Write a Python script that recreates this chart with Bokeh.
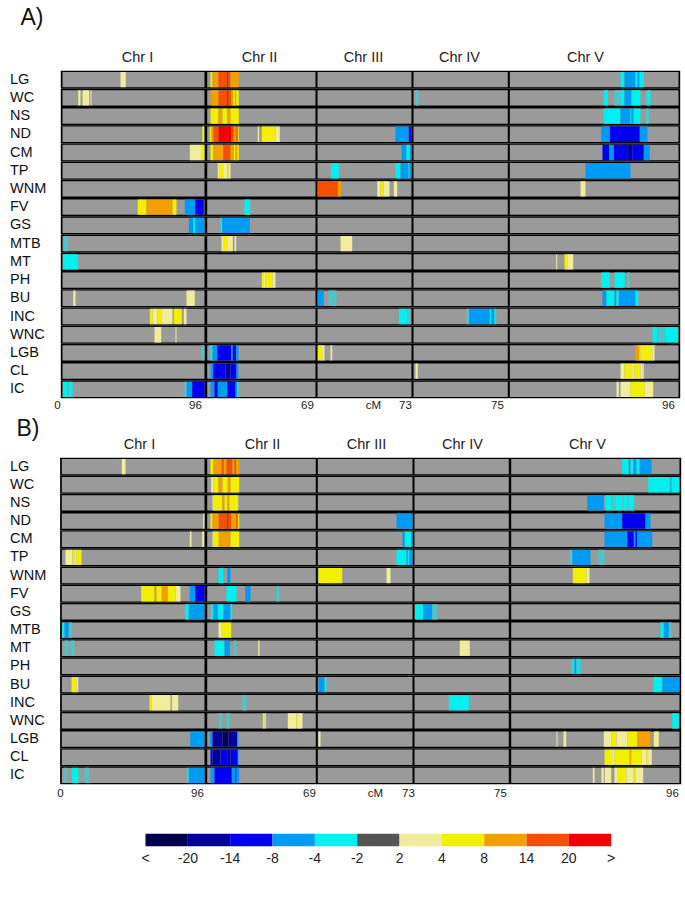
from bokeh.plotting import figure
from bokeh.layouts import column
from bokeh.models import FactorRange, Range1d, LinearAxis, FixedTicker, Label
from bokeh.core.properties import value
from bokeh.embed import file_html
from bokeh.resources import INLINE

FONT = "Liberation Sans"

# colour classes of the scale, lowest to highest; FC is a washed-out cyan seen in narrow loci
NV, DB, BL, SK, CY, DG, PA, YE, OR, RO, RE, FC = range(12)
LEVEL_COLORS = ["#00004f", "#00009a", "#0000f0", "#009bf2", "#00f0f0", "#555555",
                "#f0ec9c", "#f2f000", "#f2a000", "#f55000", "#f50000", "#4fc4c9"]
SCALE_LABELS = ["<", "-20", "-14", "-8", "-4", "-2", "2", "4", "8", "14", "20", ">"]

ROWS = ["LG", "WC", "NS", "ND", "CM", "TP", "WNM", "FV", "GS", "MTB", "MT", "PH", "BU",
        "INC", "WNC", "LGB", "CL", "IC"]
CHR_NAMES = ["Chr I", "Chr II", "Chr III", "Chr IV", "Chr V"]
TICK_LABELS = ["0", "96", "69", "cM", "73", "75", "96"]

# map position along the panel: (start, end, colour class)
A_CHR_SPANS = [(62, 204), (206.7, 315), (317, 411), (413, 507.3), (509.3, 678)]
A_CHR_CENTERS = [137, 259, 363, 459, 585]
A_TICKS = [57, 195, 307, 373, 405, 497, 668]

A_LG = [(120, 125.3, PA), (210, 212, YE), (212, 218, OR), (218, 226.7, RO), (226.7, 228, RE), (228, 230, RO), (230, 238.3, OR),
        (620, 624, CY), (624, 635, SK), (635, 637, CY), (637, 639, SK), (639, 643.3, CY)]
A_WC = [(77.7, 80, PA), (82, 88.7, PA), (90, 91, PA), (210, 218, OR), (218, 226.7, RO), (226.7, 228, RE), (228, 230.7, RO),
        (230.7, 232.5, OR), (232.5, 234.5, YE), (234.5, 235.7, OR), (235.7, 238.3, YE), (415, 418, FC),
        (603.3, 607.3, CY), (614, 620, FC), (620, 624, CY), (624, 631, SK), (631, 640, CY), (646, 650, CY)]
A_NS = [(210, 218, YE), (218, 222, OR), (222, 226.7, YE), (226.7, 230, OR), (230, 238.3, YE),
        (603, 620, CY), (620, 630, SK), (630, 631, CY), (631, 633, SK), (633, 640, CY), (646, 648, CY)]
A_ND = [(201.7, 203.7, YE), (209.3, 211, YE), (211, 213, OR), (213, 218, RO), (218, 230.7, RE), (230.7, 233.3, RO),
        (233.3, 235.7, OR), (235.7, 237.3, RO), (237.3, 238.3, YE), (257.3, 258.7, PA), (261.3, 275.3, YE), (275.3, 279.3, PA),
        (395, 408.3, SK), (408.3, 411, BL), (600.7, 609.3, SK), (609.3, 639.3, BL), (639.3, 647, SK)]
A_CM = [(189.3, 201.3, PA), (201.3, 204, YE), (210, 212.7, YE), (212.7, 222.7, OR), (222.7, 230, RO), (230, 233.3, OR),
        (233.3, 235, YE), (235, 236.7, OR), (236.7, 238.3, YE), (401, 406, SK), (406, 409.3, CY), (409.3, 411, SK),
        (602, 608.7, BL), (608.7, 613.3, SK), (613.3, 626.7, BL), (626.7, 631.7, DB), (631.7, 643.3, BL), (643.3, 649.3, SK)]
A_TP = [(217.3, 219.3, PA), (219.3, 222.7, YE), (222.7, 226.7, PA), (226.7, 228, YE), (228, 230, PA),
        (330.3, 338.3, CY), (395, 400, CY), (400, 408, SK), (408, 409, CY), (409, 411, SK), (585, 630, SK)]
A_WNM = [(317.3, 337.3, RO), (337.3, 340.7, OR), (376.7, 380, PA), (380, 383.3, YE), (383.3, 389, PA), (393.3, 396.7, PA),
         (580, 585, PA)]
A_FV = [(137.3, 146, YE), (146, 172, OR), (172, 176, YE), (184.3, 194.7, SK), (194.7, 203.3, BL), (244, 249.7, CY)]
A_GS = [(188.3, 192.7, SK), (192.7, 194.7, CY), (194.7, 204, SK), (220, 221.7, CY), (221.7, 249.3, SK)]
A_MTB = [(63.3, 67.7, FC), (221, 223.3, PA), (223.3, 226.7, YE), (226.7, 232.3, PA), (234, 235.7, PA), (340, 351.7, PA)]
A_MT = [(62.3, 77.7, CY), (555.7, 556.7, PA), (564, 566.7, YE), (566.7, 572.7, PA)]
A_PH = [(261.3, 263.5, YE), (263.5, 265, PA), (265, 272, YE), (272, 275, PA), (600.7, 609.3, CY), (614, 624.3, CY), (626.7, 629.3, FC)]
A_BU = [(72.7, 75, PA), (186, 194.3, PA), (317.3, 323.3, SK), (328, 336, FC),
        (602, 606, SK), (606, 614, CY), (614, 616, SK), (616, 618.3, CY), (618.3, 635, SK), (635, 637.7, CY)]
A_INC = [(149.3, 152, YE), (152, 156.7, PA), (156.7, 161.3, YE), (161.3, 172, PA), (173.3, 181.3, YE), (183.3, 186, PA),
         (398.3, 406.7, CY), (406.7, 410, FC), (466, 468.7, FC), (468.7, 489.3, SK), (489.3, 490.7, CY), (490.7, 494, SK), (494, 495.7, CY)]
A_WNC = [(154, 160.7, PA), (175, 176, PA), (652, 656.7, CY), (656.7, 665, FC), (665, 677.7, CY)]
A_LGB = [(201.3, 204, FC), (210, 212, CY), (212, 216.7, SK), (216.7, 230.7, BL), (230.7, 232.3, SK), (232.3, 235.7, BL), (235.7, 238, SK),
         (317.3, 321.7, YE), (321.7, 324, PA), (330, 331.7, PA), (635, 639, OR), (639, 640, PA), (640, 651.7, YE), (651.7, 654, PA)]
A_CL = [(210, 212.7, SK), (212.7, 225, BL), (225, 230, DB), (230, 236, BL), (236, 238, SK), (415, 417.3, PA),
        (620, 624, PA), (624, 631.7, YE), (631.7, 634, PA), (634, 640, YE), (640, 642, PA), (642, 643.3, PA)]
A_IC = [(62.3, 66.7, CY), (66.7, 68.3, FC), (68.3, 72, CY), (184.3, 186, CY), (186, 191.7, SK), (191.7, 204, BL),
        (210, 214, SK), (214, 217.3, BL), (217.3, 226.7, SK), (226.7, 235, BL), (235, 236.7, SK), (236.7, 238, CY),
        (616, 618.3, PA), (620, 630, PA), (630, 644, YE), (644, 652.7, PA)]
A_DATA = [A_LG, A_WC, A_NS, A_ND, A_CM, A_TP, A_WNM, A_FV, A_GS, A_MTB, A_MT, A_PH, A_BU, A_INC, A_WNC, A_LGB, A_CL, A_IC]

B_CHR_SPANS = [(61.3, 204), (206.7, 315.3), (317.3, 412), (414, 508.3), (510.7, 679)]
B_CHR_CENTERS = [139, 262, 366, 462, 587]
B_TICKS = [60, 197, 309, 375, 408, 500, 672]

B_LG = [(121.3, 125, PA), (210, 212.7, YE), (212.7, 221.3, OR), (221.3, 223.3, RO), (223.3, 226, OR), (226, 232, RO),
        (232, 234, OR), (234, 235.5, RO), (235.5, 238.7, OR), (621.7, 628.3, CY), (628.3, 630, SK), (630, 632.7, CY),
        (632.7, 636, SK), (636, 639, CY), (639, 651, SK)]
B_WC = [(210.7, 212.7, PA), (212.7, 218, YE), (218, 222, OR), (222, 227.3, YE), (227.3, 230, OR), (230, 238.7, YE),
        (647.7, 670, CY), (670, 671, SK), (671, 678.7, CY)]
B_NS = [(212, 213.3, PA), (213.3, 221.7, YE), (221.7, 224, OR), (224, 226.7, YE), (226.7, 228.7, OR), (228.7, 237.7, YE),
        (586.7, 603.3, SK), (605, 610.7, CY), (610.7, 615, FC), (615, 621.7, CY), (621.7, 623.3, FC), (623.3, 627.3, CY),
        (627.3, 628.3, FC), (628.3, 633.7, CY)]
B_ND = [(202.7, 204, PA), (210, 212, YE), (212, 218.3, OR), (218.3, 226.7, RO), (226.7, 228, RE), (228, 230.7, RO),
        (230.7, 233.3, OR), (233.3, 235.7, OR), (235.7, 237.3, RO), (237.3, 238.7, YE), (396, 412, SK),
        (604, 621.7, SK), (621.7, 645, BL), (645, 650, SK)]
B_CM = [(189.3, 191, PA), (201.7, 203.7, PA), (212, 213.3, PA), (213.3, 218.3, YE), (218.3, 230, OR), (230, 238.7, YE),
        (402, 404.3, SK), (404.3, 410.7, CY), (410.7, 412, SK), (604, 626.7, SK), (626.7, 633.3, BL), (633.3, 635, SK),
        (635, 636.7, BL), (636.7, 651.7, SK)]
B_TP = [(65, 72, PA), (72, 74, YE), (74, 76, PA), (76, 81, YE), (396, 406, CY), (406, 407.3, SK), (407.3, 408.7, CY), (408.7, 412, SK),
        (570, 571.7, CY), (571.7, 590, SK), (597.7, 604, FC)]
B_WNM = [(218, 222.7, CY), (226.7, 230, SK), (318, 341.7, YE), (386, 390, PA), (572.3, 586, YE), (586, 589, PA)]
B_FV = [(140.7, 154, YE), (154, 156, OR), (156, 161.3, YE), (161.3, 167.3, OR), (167.3, 175, YE), (175, 180, PA),
        (189.3, 194.7, SK), (194.7, 204, BL), (226, 236, CY), (244.7, 250, SK), (275.7, 279, FC)]
B_GS = [(184.7, 188.3, CY), (188.3, 204, SK), (210.7, 212.7, CY), (212.7, 217.3, SK), (217.3, 222.7, CY), (222.7, 230, SK),
        (230, 231.7, CY), (414.7, 422.7, CY), (422.7, 431.7, SK), (431.7, 436.7, FC)]
B_MTB = [(61.7, 64, CY), (64, 68.3, SK), (68.3, 71.7, FC), (218, 221.3, PA), (221.3, 230.7, YE),
         (660, 663.3, CY), (663.3, 668.3, SK), (668.3, 671, FC)]
B_MT = [(64, 68, FC), (70, 74, FC), (214, 224, CY), (224, 229.3, SK), (233.3, 236, FC), (257.7, 259, PA), (459.3, 469.3, PA)]
B_PH = [(571.7, 574, CY), (574, 576, SK), (576, 578.3, CY), (578.3, 580.7, FC)]
B_BU = [(71, 76, YE), (76, 77.7, PA), (318, 324, SK), (324, 326, CY), (653.3, 661.7, CY), (661.7, 679, SK)]
B_INC = [(149, 151, YE), (151, 170, PA), (171.3, 177.7, PA), (242, 246, FC), (448.3, 468.3, CY)]
B_WNC = [(218.3, 221.7, FC), (225.7, 229.3, FC), (262.3, 264, YE), (264, 265.3, PA), (287.3, 296, PA), (296, 296.7, YE),
         (296.7, 302, PA), (671.7, 678.3, CY)]
B_LGB = [(189.7, 204, SK), (209.3, 212, SK), (212, 222, DB), (222, 228, NV), (228, 236.7, DB), (236.7, 238, SK),
         (318, 320, PA), (556, 557, PA), (563, 565.7, PA), (603.3, 610.7, PA), (610.7, 616, YE), (616, 626.7, PA),
         (626.7, 636.7, YE), (636.7, 650, OR), (653.3, 658.3, PA)]
B_CL = [(210, 212, BL), (212, 220, DB), (220, 226.7, BL), (226.7, 230, DB), (230, 237.3, BL), (237.3, 238, SK),
        (604, 611.7, YE), (611.7, 614, PA), (614, 629.3, YE), (629.3, 630.7, OR), (630.7, 641, YE), (641, 646, PA),
        (646, 647.7, YE), (647.7, 651.3, PA)]
B_IC = [(63.7, 66, FC), (71.3, 78, CY), (84, 88.7, FC), (186.7, 188.3, CY), (188.3, 204, SK), (210, 214, SK), (214, 231.3, BL),
        (231.3, 235, SK), (235, 236, BL), (236, 238.7, SK), (592.3, 594, PA), (601, 603.3, PA), (604.3, 610.7, PA),
        (614, 617.3, PA), (617.3, 626, YE), (626, 632.7, PA), (632.7, 635, YE), (635, 642.7, PA)]
B_DATA = [B_LG, B_WC, B_NS, B_ND, B_CM, B_TP, B_WNM, B_FV, B_GS, B_MTB, B_MT, B_PH, B_BU, B_INC, B_WNC, B_LGB, B_CL, B_IC]


def panel(tag, data, spans, centers, ticks, height, border_top, border_bottom, tag_x, tag_y, tick_standoff):
    p = figure(width=685, height=height, output_backend="svg", toolbar_location=None,
               x_range=Range1d(0, 685), y_range=FactorRange(factors=ROWS[::-1]),
               x_axis_location=None, y_axis_location=None,
               min_border_left=0, min_border_right=0,
               min_border_top=border_top, min_border_bottom=border_bottom, outline_line_color=None,
               border_fill_color=None, background_fill_color=None)
    p.grid.visible = False
    left_edge, right_edge = spans[0][0] - 1.7, spans[-1][1] + 1.7
    p.hbar(y=ROWS, left=left_edge, right=right_edge, height=1.0, fill_color="#000000", line_color=None)

    gy, gl, gr = [], [], []
    for row in ROWS:
        for a, b in spans:
            gy.append(row); gl.append(a); gr.append(b)
    p.hbar(y=gy, left=gl, right=gr, height=0.84, fill_color="#9a9a9a", line_color=None)

    sy, sl, sr, sc = [], [], [], []
    for row, segments in zip(ROWS, data):
        for a, b, lev in segments:
            sy.append(row); sl.append(a); sr.append(b); sc.append(LEVEL_COLORS[lev])
    p.hbar(y=sy, left=sl, right=sr, height=0.84, fill_color=sc, line_color=None)

    p.text(x=[9.5] * len(ROWS), y=ROWS, text=ROWS, text_font=value(FONT), text_font_size="14.5px",
           text_color="#111111", text_align="left", text_baseline="middle", y_offset=-1)

    top = LinearAxis(ticker=FixedTicker(ticks=centers),
                     major_label_overrides=dict(zip(centers, CHR_NAMES)))
    bottom = LinearAxis(ticker=FixedTicker(ticks=ticks),
                        major_label_overrides=dict(zip(ticks, TICK_LABELS)))
    for ax, size, stand in ((top, "14.5px", 6), (bottom, "11.5px", tick_standoff)):
        ax.axis_line_color = None
        ax.major_tick_line_color = None
        ax.minor_tick_line_color = None
        ax.major_tick_in = 0
        ax.major_tick_out = 0
        ax.major_label_standoff = stand
        ax.major_label_text_font = FONT
        ax.major_label_text_font_size = size
        ax.major_label_text_color = "#222222"
    p.add_layout(top, "above")
    p.add_layout(bottom, "below")

    p.add_layout(Label(x=tag_x, y=tag_y, x_units="screen", y_units="screen", text=tag,
                       text_font=FONT, text_font_size="23px", text_color="#111111"), "above")
    return p


fig_a = panel("A)", A_DATA, A_CHR_SPANS, A_CHR_CENTERS, A_TICKS, 415, 70, 17, 20, 16, 0)
fig_b = panel("B)", B_DATA, B_CHR_SPANS, B_CHR_CENTERS, B_TICKS, 419, 50, 41, 16, -8, 2)
fig_b.margin = (-9, 0, 0, 0)

scale_pos = list(range(len(SCALE_LABELS)))
fig_s = figure(width=685, height=72, output_backend="svg", toolbar_location=None,
               x_range=Range1d(-3.425, 12.755), y_range=Range1d(0, 1),
               x_axis_location=None, y_axis_location=None,
               min_border_left=0, min_border_right=0, min_border_top=8, min_border_bottom=51,
               outline_line_color=None)
fig_s.grid.visible = False
fig_s.quad(left=scale_pos[:-1], right=scale_pos[1:], bottom=0, top=1,
           fill_color=LEVEL_COLORS[:11], line_color=None)
scale_axis = LinearAxis(ticker=FixedTicker(ticks=scale_pos),
                        major_label_overrides=dict(zip(scale_pos, SCALE_LABELS)))
scale_axis.axis_line_color = None
scale_axis.major_tick_line_color = None
scale_axis.minor_tick_line_color = None
scale_axis.major_tick_in = 0
scale_axis.major_tick_out = 0
scale_axis.major_label_standoff = 3
scale_axis.major_label_text_font = FONT
scale_axis.major_label_text_font_size = "14px"
scale_axis.major_label_text_color = "#222222"
fig_s.add_layout(scale_axis, "below")

page = column(fig_a, fig_b, fig_s, spacing=0)
open("out.html", "w").write(file_html(page, INLINE))
